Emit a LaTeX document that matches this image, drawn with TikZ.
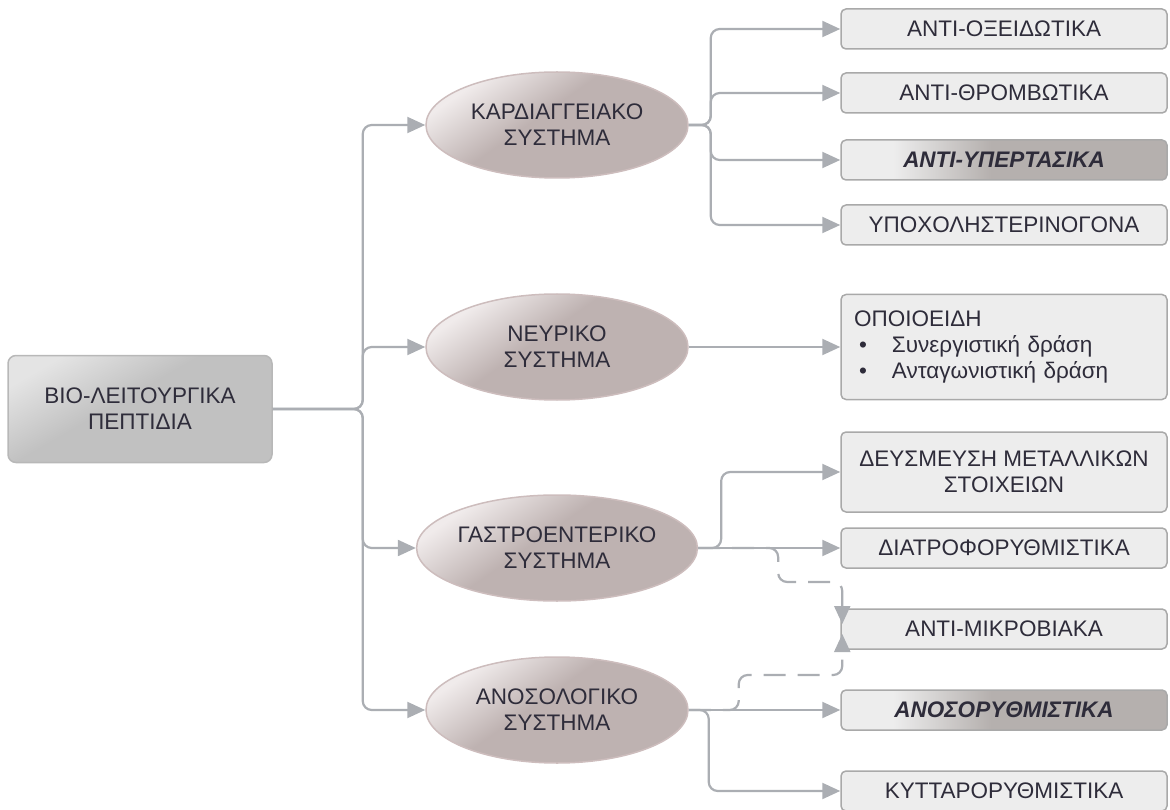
\documentclass[tikz,border=0pt]{standalone}
\usepackage{fontspec}
\setmainfont{Liberation Sans}
\usetikzlibrary{arrows.meta,shapes.geometric,calc}
\definecolor{conncol}{HTML}{ABAEB3}
\definecolor{boxfill}{HTML}{EDEDED}
\definecolor{boxdraw}{HTML}{A9A9A9}
\definecolor{ellL}{HTML}{F0EBEB}
\definecolor{ellD}{HTML}{BEB2B1}
\definecolor{elldraw}{HTML}{CDBDBD}
\definecolor{rootL}{HTML}{E4E4E4}
\definecolor{rootD}{HTML}{C1C1C1}
\definecolor{rootdraw}{HTML}{B8B8B8}
\definecolor{hiD}{HTML}{B5B0AE}
\definecolor{txt}{HTML}{2E2C3A}
\pgfdeclareverticalshading{ellshade}{100bp}{color(0bp)=(ellD); color(55bp)=(ellD); color(74bp)=(ellL); color(100bp)=(ellL)}
\pgfdeclareverticalshading{rootshade}{100bp}{color(0bp)=(rootD); color(55bp)=(rootD); color(76bp)=(rootL); color(100bp)=(rootL)}
\pgfdeclarehorizontalshading{hishade}{100bp}{color(0bp)=(boxfill); color(33bp)=(boxfill); color(48bp)=(hiD); color(100bp)=(hiD)}
\newcommand\myfont{\fontsize{22.5pt}{26pt}\selectfont}
\tikzset{
  conn/.style={draw=conncol, line width=2.2pt, rounded corners=9pt, -{Triangle[length=18pt,width=16pt]}},
  dconn/.style={conn, dash pattern=on 22pt off 12pt},
  ellnode/.style={ellipse, draw=elldraw, line width=1.5pt, shading=ellshade, shading angle=35,
    minimum width=262pt, minimum height=106pt, inner sep=0pt, align=center, font=\myfont, text=txt},
  leaf/.style={rectangle, rounded corners=5pt, draw=boxdraw, line width=1.5pt, fill=boxfill,
    minimum width=326pt, minimum height=40pt, align=center, font=\myfont, text=txt},
  hileaf/.style={rectangle, rounded corners=5pt, draw=boxdraw, line width=1.5pt, shading=hishade,
    minimum width=326pt, minimum height=40pt, align=center, font=\myfont\bfseries\itshape, text=txt},
  rootnode/.style={rectangle, rounded corners=8pt, draw=rootdraw, line width=1.5pt, shading=rootshade,
    shading angle=30, minimum width=264pt, minimum height=107pt, align=center, font=\myfont, text=txt}
}
\begin{document}
\begin{tikzpicture}[x=1pt,y=-1pt]
\useasboundingbox (0,0) rectangle (1170,810);
\node[rootnode] (root) at (140,409) {ΒΙΟ-ΛΕΙΤΟΥΡΓΙΚΑ\\ΠΕΠΤΙΔΙΑ};
\node[ellnode] (e1) at (557,125) {ΚΑΡΔΙΑΓΓΕΙΑΚΟ\\ΣΥΣΤΗΜΑ};
\node[ellnode] (e2) at (557,347) {ΝΕΥΡΙΚΟ\\ΣΥΣΤΗΜΑ};
\node[ellnode] (e3) at (557,548) {ΓΑΣΤΡΟΕΝΤΕΡΙΚΟ\\ΣΥΣΤΗΜΑ};
\node[ellnode] (e4) at (557,710) {ΑΝΟΣΟΛΟΓΙΚΟ\\ΣΥΣΤΗΜΑ};
\node[leaf] (b1) at (1004,29) {ΑΝΤΙ-ΟΞΕΙΔΩΤΙΚΑ};
\node[leaf] (b2) at (1004,93) {ΑΝΤΙ-ΘΡΟΜΒΩΤΙΚΑ};
\node[hileaf] (b3) at (1004,160) {ΑΝΤΙ-ΥΠΕΡΤΑΣΙΚΑ};
\node[leaf] (b4) at (1004,225) {ΥΠΟΧΟΛΗΣΤΕΡΙΝΟΓΟΝΑ};
\node[leaf, minimum height=105pt, align=left, text width=300pt] (b5) at (1004,347)
  {ΟΠΟΙΟΕΙΔΗ\\\hspace*{5pt}\makebox[33pt][l]{•}Συνεργιστική δράση\\\hspace*{5pt}\makebox[33pt][l]{•}Ανταγωνιστική δράση};
\node[leaf, minimum height=80pt] (b6) at (1004,472) {ΔΕΥΣΜΕΥΣΗ ΜΕΤΑΛΛΙΚΩΝ\\ΣΤΟΙΧΕΙΩΝ};
\node[leaf] (b7) at (1004,548) {ΔΙΑΤΡΟΦΟΡΥΘΜΙΣΤΙΚΑ};
\node[leaf] (b8) at (1004,629) {ΑΝΤΙ-ΜΙΚΡΟΒΙΑΚΑ};
\node[hileaf] (b9) at (1004,710) {ΑΝΟΣΟΡΥΘΜΙΣΤΙΚΑ};
\node[leaf] (b10) at (1004,791) {ΚΥΤΤΑΡΟΡΥΘΜΙΣΤΙΚΑ};
% root to systems
\draw[conn] (root.east) -- ++(90,0) |- (e1.west);
\draw[conn] (root.east) -- ++(90,0) |- (e2.west);
\draw[conn] (root.east) -- ++(90,0) |- (e3.west);
\draw[conn] (root.east) -- ++(90,0) |- (e4.west);
% cardiovascular
\draw[conn] (e1.east) -- ++(22,0) |- (b1.west);
\draw[conn] (e1.east) -- ++(22,0) |- (b2.west);
\draw[conn] (e1.east) -- ++(22,0) |- (b3.west);
\draw[conn] (e1.east) -- ++(22,0) |- (b4.west);
% nervous
\draw[conn] (e2.east) -- (b5.west);
% gastro
\draw[conn] (e3.east) -- ++(23,0) |- (b6.west);
\draw[conn] (e3.east) -- (b7.west);
\draw[dconn] (e3.east) -- ++(80,0) -- ++(0,34) -| ($(b8.west)+(2,-5)$);
% immune
\draw[conn] (e4.east) -- (b9.west);
\draw[conn] (e4.east) -- ++(20,0) |- (b10.west);
\draw[dconn] (e4.east) -- ++(50,0) -- ++(0,-35) -| ($(b8.west)+(2,5)$);
\end{tikzpicture}
\end{document}
